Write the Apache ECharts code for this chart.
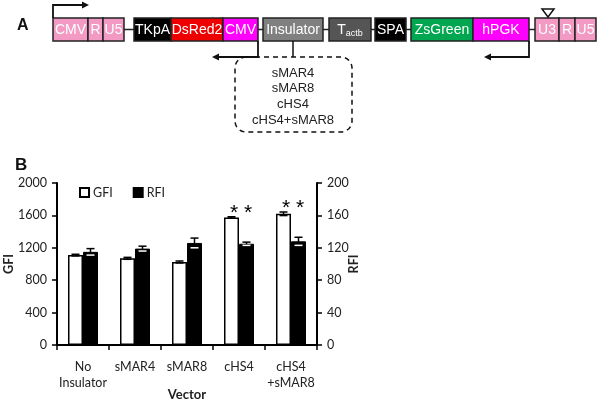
<!DOCTYPE html>
<html><head><meta charset="utf-8">
<script src="https://cdn.jsdelivr.net/npm/echarts@6/dist/echarts.min.js"></script>
<style>html,body{margin:0;padding:0;background:#fff}#c{width:600px;height:401px}</style>
</head><body><div id="c"></div>
<script>
const categories = ['No\nInsulator', 'sMAR4', 'sMAR8', 'cHS4', 'cHS4\n+sMAR8'];
const gfi = [1110, 1070, 1025, 1575, 1620];
const gfiErr = [10, 12, 12, 8, 22];
const rfi = [115, 119, 126, 125, 128];
const rfiErr = [4, 3, 6, 2, 5];
const sig = ['', '', '', '* *', '* *'];
const insulators = ['sMAR4', 'sMAR8', 'cHS4', 'cHS4+sMAR8'];

const FONT = 'Lato';
const BOXFONT = 'Liberation Sans';
const FS = 12.5;
const barW = 15;

function errRender(vals, errs, side, withSig) {
  return function (params, api) {
    const i = api.value(0);
    const v = api.value(1), e = api.value(2);
    const top = api.coord([i, v + e]);
    const bot = api.coord([i, v - e]);
    const x = top[0] + side * barW / 2;
    const cap = 4;
    const ch = [
      {type: 'line', shape: {x1: x, y1: top[1], x2: x, y2: bot[1]}, style: {stroke: '#000', lineWidth: 1.5}},
      {type: 'line', shape: {x1: x - cap, y1: top[1], x2: x + cap, y2: top[1]}, style: {stroke: '#000', lineWidth: 1.5}},
      {type: 'line', shape: {x1: x - cap, y1: bot[1], x2: x + cap, y2: bot[1]}, style: {stroke: side > 0 ? '#fff' : '#000', lineWidth: 1.5}}
    ];
    if (withSig && sig[params.dataIndex]) {
      ch.push({type: 'text', style: {text: sig[params.dataIndex], x: top[0] + 2, y: top[1] + 7,
        align: 'center', verticalAlign: 'bottom', fontSize: 21, fontFamily: BOXFONT, fill: '#000'}});
    }
    return {type: 'group', children: ch};
  };
}

// ---- diagram (panel A) ----
const Y0 = 18, H = 23;
function box(x1, x2, fill, text, opts) {
  opts = opts || {};
  return [
    {type: 'rect', shape: {x: x1, y: Y0, width: x2 - x1, height: H}, style: {fill: fill, stroke: '#222', lineWidth: 1.5}, z: 10},
    {type: 'text', x: (x1 + x2) / 2, y: Y0 + H / 2 + 1, style: Object.assign({text: text, align: 'center', verticalAlign: 'middle',
      fontSize: 14, fontFamily: BOXFONT, fill: '#fff'}, opts), z: 11}
  ];
}
const pink = '#f29ac4', mag = '#ff00ff', red = '#ee0000', grn = '#00a650';
let g = [];
g.push({type: 'line', shape: {x1: 124, y1: 29.5, x2: 535, y2: 29.5}, style: {stroke: '#222', lineWidth: 1.5}, z: 5});
g = g.concat(box(53, 88, pink, 'CMV'), box(88, 103, pink, 'R'), box(103, 124, pink, 'U5'));
g = g.concat(box(134, 171, '#000', 'TKpA'), box(171, 223, red, 'DsRed2'), box(223, 258, mag, 'CMV'));
g = g.concat(box(263, 323, '#808080', 'Insulator'));
g = g.concat(box(329, 371, '#555', '{a|T}{b|actb}', {rich: {a: {fontSize: 14, fontFamily: BOXFONT, fill: '#fff'}, b: {fontSize: 9, fontFamily: BOXFONT, fill: '#fff', padding: [7, 0, 0, 0]}}}));
g = g.concat(box(375, 406, '#000', 'SPA'), box(411, 473, grn, 'ZsGreen'), box(473, 529, mag, 'hPGK'));
g = g.concat(box(535, 559, pink, 'U3'), box(559, 575, pink, 'R'), box(575, 596, pink, 'U5'));
const ln = {stroke: '#111', lineWidth: 1.8, fill: null};
g.push({type: 'polyline', shape: {points: [[53, 18], [53, 5], [83, 5]]}, style: ln, z: 12});
g.push({type: 'polygon', shape: {points: [[82, 1.5], [89, 5], [82, 8.5]]}, style: {fill: '#111'}, z: 12});
g.push({type: 'polyline', shape: {points: [[258, 41], [258, 57], [218, 57]]}, style: ln, z: 12});
g.push({type: 'polygon', shape: {points: [[219, 53.5], [212, 57], [219, 60.5]]}, style: {fill: '#111'}, z: 12});
g.push({type: 'polyline', shape: {points: [[529, 41], [529, 57], [490, 57]]}, style: ln, z: 12});
g.push({type: 'polygon', shape: {points: [[491, 53.5], [484, 57], [491, 60.5]]}, style: {fill: '#111'}, z: 12});
g.push({type: 'line', shape: {x1: 293, y1: 41, x2: 293, y2: 57}, style: {stroke: '#111', lineWidth: 1.5}, z: 12});
g.push({type: 'rect', shape: {x: 235, y: 57, width: 117, height: 75, r: 11}, style: {fill: null, stroke: '#111', lineWidth: 1.5, lineDash: [5, 4]}, z: 12});
g.push({type: 'polygon', shape: {points: [[542, 9], [554, 9], [548, 17]]}, style: {fill: '#fff', stroke: '#111', lineWidth: 1.5}, z: 12});
insulators.forEach((t, k) => {
  g.push({type: 'text', x: 293, y: 73 + k * 15.7, style: {text: t, align: 'center', verticalAlign: 'middle', fontSize: 13, fontFamily: BOXFONT, fill: '#222'}, z: 12});
});
g.push({type: 'text', x: 17, y: 18, style: {text: 'A', fontSize: 16, fontWeight: 'bold', fontFamily: BOXFONT, fill: '#111'}});
g.push({type: 'text', x: 15, y: 157, style: {text: 'B', fontSize: 17, fontWeight: 'bold', fontFamily: BOXFONT, fill: '#111'}});

const axisCommon = {
  axisLine: {show: true, lineStyle: {color: '#000', width: 2}},
  axisTick: {show: true, inside: false, length: 5, lineStyle: {color: '#000', width: 1.5}},
  splitLine: {show: false},
  axisLabel: {fontSize: FS, fontFamily: FONT, color: '#222', margin: 10, formatter: v => String(v)},
  nameLocation: 'middle', nameMoveOverlap: false,
  nameTextStyle: {fontSize: 12.5, fontWeight: 'bold', fontFamily: FONT, color: '#222'}
};

const option = {
  animation: false,
  backgroundColor: '#fff',
  graphic: {elements: g},
  grid: {left: 57, right: 283, top: 183, bottom: 56, outerBoundsMode: 'none', containLabel: false},
  legend: {data: ['GFI', 'RFI'], left: 74, top: 181, itemWidth: 9, itemHeight: 9, itemGap: 20,
    icon: 'rect', textStyle: {fontSize: FS, fontFamily: FONT, color: '#222', padding: [0, 0, 0, -1]}},
  xAxis: {
    type: 'category', data: categories,
    axisLine: {show: true, lineStyle: {color: '#000', width: 2}},
    axisTick: {show: true, length: 5, lineStyle: {color: '#000', width: 1.5}},
    axisLabel: {fontSize: FS, fontFamily: FONT, color: '#222', margin: 14, lineHeight: 16, interval: 0},
    name: 'Vector', nameLocation: 'middle', nameGap: 43, nameMoveOverlap: false,
    nameTextStyle: {fontSize: 13, fontWeight: 'bold', fontFamily: FONT, color: '#222'}
  },
  yAxis: [
    Object.assign({}, axisCommon, {type: 'value', min: 0, max: 2000, interval: 400, position: 'left', name: 'GFI', nameGap: 42, nameRotate: 90}),
    Object.assign({}, axisCommon, {type: 'value', min: 0, max: 200, interval: 40, position: 'right', name: 'RFI', nameGap: 30, nameRotate: 90})
  ],
  series: [
    {name: 'GFI', type: 'bar', yAxisIndex: 0, data: gfi, barWidth: barW, barGap: '0%',
      itemStyle: {color: '#fff', borderColor: '#000', borderWidth: 1.5}},
    {name: 'RFI', type: 'bar', yAxisIndex: 1, data: rfi, barWidth: barW, barGap: '0%',
      itemStyle: {color: '#000', borderColor: '#000', borderWidth: 1}},
    {type: 'custom', yAxisIndex: 0, z: 10, data: gfi.map((v, i) => [i, v, gfiErr[i]]),
      renderItem: errRender(gfi, gfiErr, -1, true)},
    {type: 'custom', yAxisIndex: 1, z: 10, data: rfi.map((v, i) => [i, v, rfiErr[i]]),
      renderItem: errRender(rfi, rfiErr, 1, false)}
  ]
};
echarts.init(document.getElementById('c'), null, {renderer: 'canvas'}).setOption(option);
</script></body></html>
